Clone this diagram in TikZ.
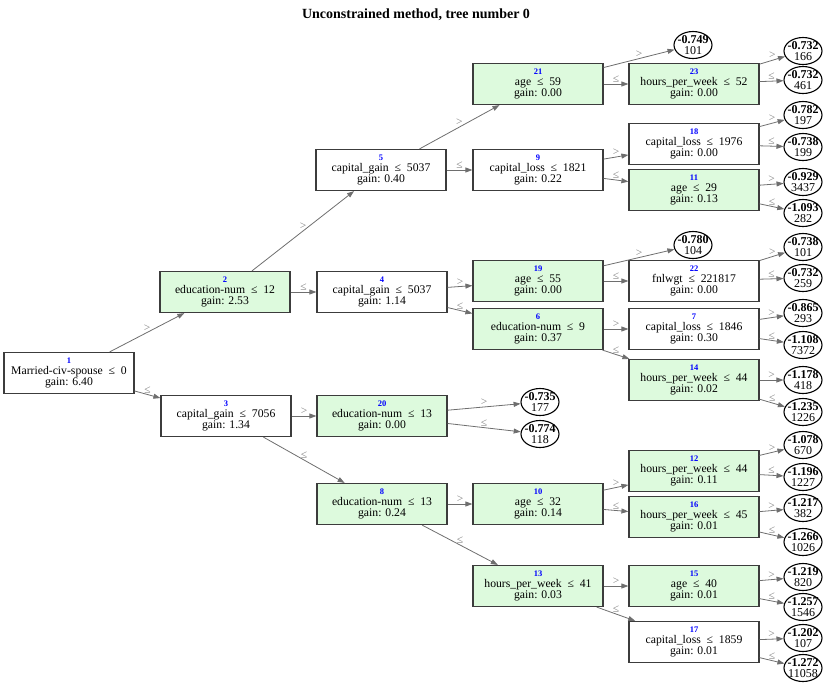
\documentclass[tikz,border=0pt]{standalone}
\usepackage{fontspec}
\setmainfont{Liberation Serif}
\usetikzlibrary{arrows.meta,shapes.geometric}
\definecolor{boxgreen}{RGB}{221,250,221}
\definecolor{edgegray}{RGB}{110,110,110}
\definecolor{framegray}{RGB}{60,60,60}
\definecolor{labgray}{RGB}{130,130,130}
\newcommand{\tnode}[3]{{\fontsize{8.5}{8}\selectfont\bfseries\color{blue}#1}\\[0.5pt]#2\\gain: #3}
\newcommand{\lnode}[2]{{\bfseries #1}\\#2}
\begin{document}
\begin{tikzpicture}[x=1pt,y=-1pt,
    cut/.style={rectangle,draw=framegray,line width=1.2pt,fill=white,minimum width=130pt,minimum height=41pt,inner sep=0pt,align=center,font=\fontsize{11.7}{11}\selectfont},
    cutg/.style={cut,fill=boxgreen},
    leafe/.style={ellipse,draw,line width=1.1pt,minimum width=38pt,minimum height=27pt,inner xsep=-10pt,inner ysep=-5pt,align=center,font=\fontsize{12}{11}\selectfont},
    arr/.style={draw=edgegray,line width=0.8pt,-{Triangle[length=7pt,width=5pt]}},
    lab/.style={above,text=labgray,font=\fontsize{11.5}{11}\selectfont,inner sep=1pt}]
    \useasboundingbox (0,0) rectangle (830,694);
    \node (title) at (416,15) {\fontsize{14}{16}\selectfont\bfseries Unconstrained method, tree number 0};
    \node[cut] (n1) at (69,373) {\tnode{1}{Married-civ-spouse~~≤~~0}{6.40}};
    \node[cutg] (n2) at (225,292) {\tnode{2}{education-num~~≤~~12}{2.53}};
    \node[cut] (n3) at (226,416) {\tnode{3}{capital\_gain~~≤~~7056}{1.34}};
    \node[cut] (n4) at (382,292) {\tnode{4}{capital\_gain~~≤~~5037}{1.14}};
    \node[cut] (n5) at (381,170) {\tnode{5}{capital\_gain~~≤~~5037}{0.40}};
    \node[cutg] (n6) at (538,329) {\tnode{6}{education-num~~≤~~9}{0.37}};
    \node[cut] (n7) at (694,329) {\tnode{7}{capital\_loss~~≤~~1846}{0.30}};
    \node[cutg] (n8) at (382,504) {\tnode{8}{education-num~~≤~~13}{0.24}};
    \node[cut] (n9) at (538,170) {\tnode{9}{capital\_loss~~≤~~1821}{0.22}};
    \node[cutg] (n10) at (538,504) {\tnode{10}{age~~≤~~32}{0.14}};
    \node[cutg] (n11) at (694,190) {\tnode{11}{age~~≤~~29}{0.13}};
    \node[cutg] (n12) at (694,471) {\tnode{12}{hours\_per\_week~~≤~~44}{0.11}};
    \node[cutg] (n13) at (538,586) {\tnode{13}{hours\_per\_week~~≤~~41}{0.03}};
    \node[cutg] (n14) at (694,380) {\tnode{14}{hours\_per\_week~~≤~~44}{0.02}};
    \node[cutg] (n15) at (694,586) {\tnode{15}{age~~≤~~40}{0.01}};
    \node[cutg] (n16) at (694,517) {\tnode{16}{hours\_per\_week~~≤~~45}{0.01}};
    \node[cut] (n17) at (694,642) {\tnode{17}{capital\_loss~~≤~~1859}{0.01}};
    \node[cut] (n18) at (694,144) {\tnode{18}{capital\_loss~~≤~~1976}{0.00}};
    \node[cutg] (n19) at (538,281) {\tnode{19}{age~~≤~~55}{0.00}};
    \node[cutg] (n20) at (382,416) {\tnode{20}{education-num~~≤~~13}{0.00}};
    \node[cutg] (n21) at (538,84) {\tnode{21}{age~~≤~~59}{0.00}};
    \node[cut] (n22) at (694,281) {\tnode{22}{fnlwgt~~≤~~221817}{0.00}};
    \node[cutg] (n23) at (694,84) {\tnode{23}{hours\_per\_week~~≤~~52}{0.00}};
    \node[leafe] (l21a) at (693,45) {\lnode{-0.749}{101}};
    \node[leafe] (l23a) at (803,51) {\lnode{-0.732}{166}};
    \node[leafe] (l23b) at (803,80) {\lnode{-0.732}{461}};
    \node[leafe] (l18a) at (803,115) {\lnode{-0.782}{197}};
    \node[leafe] (l18b) at (803,147) {\lnode{-0.738}{199}};
    \node[leafe] (l11a) at (803,182) {\lnode{-0.929}{3437}};
    \node[leafe] (l11b) at (803,213) {\lnode{-1.093}{282}};
    \node[leafe] (l19a) at (693,245) {\lnode{-0.780}{104}};
    \node[leafe] (l22a) at (803,247) {\lnode{-0.738}{101}};
    \node[leafe] (l22b) at (803,278) {\lnode{-0.732}{259}};
    \node[leafe] (l7a) at (803,313) {\lnode{-0.865}{293}};
    \node[leafe] (l7b) at (803,345) {\lnode{-1.108}{7372}};
    \node[leafe] (l14a) at (803,380) {\lnode{-1.178}{418}};
    \node[leafe] (l14b) at (803,412) {\lnode{-1.235}{1226}};
    \node[leafe] (l20a) at (540,402) {\lnode{-0.735}{177}};
    \node[leafe] (l20b) at (540,434) {\lnode{-0.774}{118}};
    \node[leafe] (l12a) at (803,445) {\lnode{-1.078}{670}};
    \node[leafe] (l12b) at (803,477) {\lnode{-1.196}{1227}};
    \node[leafe] (l16a) at (803,508) {\lnode{-1.217}{382}};
    \node[leafe] (l16b) at (803,542) {\lnode{-1.266}{1026}};
    \node[leafe] (l15a) at (803,577) {\lnode{-1.219}{820}};
    \node[leafe] (l15b) at (803,607) {\lnode{-1.257}{1546}};
    \node[leafe] (l17a) at (803,638) {\lnode{-1.202}{107}};
    \node[leafe] (l17b) at (803,668) {\lnode{-1.272}{11058}};
    \foreach \a/\b/\c in {n1/n2/>,n1/n3/≤,n2/n5/>,n2/n4/≤,n5/n21/>,n5/n9/≤,n21/l21a/>,n21/n23/≤,
        n23/l23a/>,n23/l23b/≤,n9/n18/>,n9/n11/≤,n18/l18a/>,n18/l18b/≤,n11/l11a/>,n11/l11b/≤,
        n4/n19/>,n4/n6/≤,n19/l19a/>,n19/n22/≤,n22/l22a/>,n22/l22b/≤,n6/n7/>,n6/n14/≤,
        n7/l7a/>,n7/l7b/≤,n14/l14a/>,n14/l14b/≤,n3/n20/>,n3/n8/≤,n20/l20a/>,n20/l20b/≤,
        n8/n10/>,n8/n13/≤,n10/n12/>,n10/n16/≤,n12/l12a/>,n12/l12b/≤,n16/l16a/>,n16/l16b/≤,
        n13/n15/>,n13/n17/≤,n15/l15a/>,n15/l15b/≤,n17/l17a/>,n17/l17b/≤}
        \draw[arr] (\a) -- node[lab] {\c} (\b);
\end{tikzpicture}
\end{document}
